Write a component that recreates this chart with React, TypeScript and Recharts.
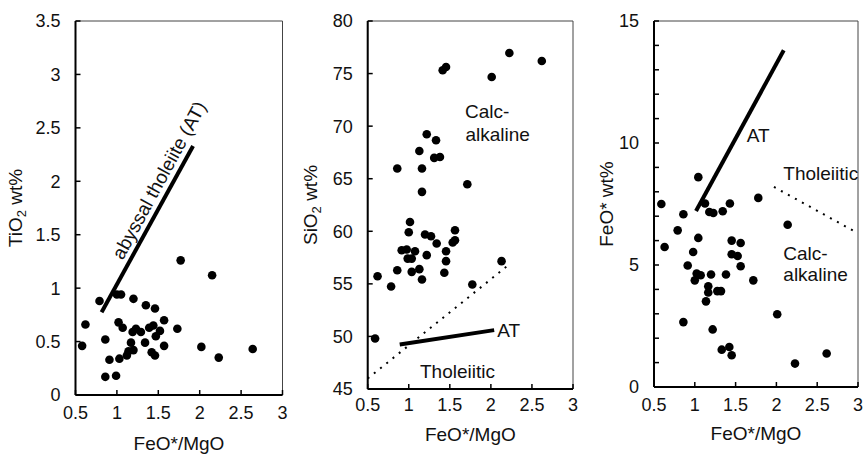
import React from 'react';
import { ScatterChart, Scatter, XAxis, YAxis, ReferenceLine, ReferenceArea } from 'recharts';

const FONT = '"Liberation Sans", Arial, Helvetica, sans-serif';

// Shared x axis (FeO*/MgO)
const ratioTicks = [0.5, 1, 1.5, 2, 2.5, 3];

// Panel 1: TiO2 wt%
const tiRatio = [0.58, 0.62, 0.79, 0.86, 0.86, 0.91, 0.99, 1.0, 1.05, 1.02, 1.07, 1.03, 1.12, 1.14, 1.17, 1.2, 1.19, 1.23, 1.2, 1.29, 1.34, 1.35, 1.39, 1.44, 1.46, 1.42, 1.46, 1.47, 1.52, 1.57, 1.57, 1.73, 2.02, 2.23, 2.15, 1.77, 2.64];
const tiValues = [0.46, 0.66, 0.88, 0.52, 0.17, 0.33, 0.18, 0.94, 0.94, 0.68, 0.63, 0.34, 0.37, 0.41, 0.49, 0.42, 0.59, 0.62, 0.9, 0.59, 0.49, 0.84, 0.63, 0.65, 0.81, 0.4, 0.37, 0.55, 0.6, 0.7, 0.46, 0.62, 0.45, 0.35, 1.12, 1.26, 0.43];
const tiTicks = [0, 0.5, 1, 1.5, 2, 2.5, 3, 3.5];
const tiAT = [{ x: 0.815, y: 0.775 }, { x: 1.92, y: 2.33 }];

// Panel 2: SiO2 wt%
const siRatio = [0.59, 0.62, 0.785, 0.86, 0.86, 0.914, 0.975, 0.987, 1.0, 1.015, 1.036, 1.036, 1.076, 1.129, 1.129, 1.161, 1.161, 1.161, 1.198, 1.219, 1.219, 1.271, 1.31, 1.332, 1.34, 1.38, 1.413, 1.433, 1.454, 1.454, 1.454, 1.535, 1.563, 1.563, 1.713, 1.774, 2.01, 2.13, 2.225, 2.62];
const siValues = [49.8, 55.73, 54.75, 56.3, 65.97, 58.2, 58.27, 57.4, 59.91, 60.89, 57.4, 56.14, 58.1, 56.4, 67.64, 55.42, 63.75, 65.97, 59.69, 57.73, 69.23, 59.53, 66.98, 68.66, 58.84, 67.07, 75.31, 56.05, 75.63, 58.1, 57.16, 58.93, 59.15, 60.1, 64.48, 54.94, 74.68, 57.16, 76.96, 76.2];
const siTicks = [45, 50, 55, 60, 65, 70, 75, 80];
const siAT = [{ x: 0.89, y: 49.24 }, { x: 2.04, y: 50.6 }];
const siDivider = [{ x: 0.5, y: 46.0 }, { x: 2.2, y: 56.7 }];

// Panel 3: FeO* wt%
const feRatio = [0.59, 0.63, 0.79, 0.86, 0.86, 0.913, 0.98, 1.0, 1.023, 1.043, 1.043, 1.072, 1.125, 1.137, 1.165, 1.165, 1.178, 1.199, 1.219, 1.227, 1.276, 1.321, 1.33, 1.342, 1.382, 1.423, 1.43, 1.452, 1.452, 1.452, 1.525, 1.562, 1.562, 1.717, 1.778, 2.01, 2.138, 2.228, 2.616];
const feValues = [7.5, 5.74, 6.42, 7.08, 2.66, 4.98, 5.53, 4.37, 4.65, 8.6, 6.11, 4.58, 7.52, 3.51, 4.13, 3.87, 7.17, 4.61, 2.36, 7.13, 3.93, 3.93, 1.53, 7.2, 4.61, 1.64, 7.52, 1.3, 6.0, 5.44, 5.37, 5.9, 4.95, 4.37, 7.75, 2.98, 6.65, 0.96, 1.37];
const feTicks = [0, 1, 2, 3, 4, 5, 6, 7, 8, 9, 10, 11, 12, 13, 14, 15];
const feAT = [{ x: 1.015, y: 7.21 }, { x: 2.09, y: 13.8 }];
const feDivider = [{ x: 1.97, y: 8.2 }, { x: 3.0, y: 6.3 }];

type Pt = { x: number; y: number };
type Anno = { x: number; y: number; text: string; angle?: number };

const tiAnnos: Anno[] = [{ x: 1.51, y: 2.01, text: 'abyssal tholeiite (AT)', angle: -61.5 }];
const siAnnos: Anno[] = [
  { x: 1.685, y: 70.75, text: 'Calc-' },
  { x: 1.69, y: 68.56, text: 'alkaline' },
  { x: 1.137, y: 46.0, text: 'Tholeiitic' },
  { x: 2.078, y: 49.96, text: 'AT' },
];
const feAnnos: Anno[] = [
  { x: 1.636, y: 10.04, text: 'AT' },
  { x: 2.085, y: 8.5, text: 'Tholeiitic' },
  { x: 2.085, y: 5.19, text: 'Calc-' },
  { x: 2.085, y: 4.33, text: 'alkaline' },
];

const zip = (xs: number[], ys: number[]): Pt[] => xs.map((x, i) => ({ x, y: ys[i] }));

const makeXTick = (offset: number) => (props: any) => {
  const { x, y, payload } = props;
  return (
    <g>
      <line x1={x} y1={y} x2={x} y2={y - 5} stroke="#000" strokeWidth={1.5} />
      <text x={x} y={y + offset} textAnchor="middle" fontSize={18} fontFamily={FONT} fill="#111">
        {payload.value}
      </text>
    </g>
  );
};

const makeYTick = (every: number) => (props: any) => {
  const { x, y, payload } = props;
  const v = payload.value;
  const r = v / every;
  const show = Math.abs(r - Math.round(r)) < 1e-6;
  return (
    <g>
      <line x1={x} y1={y} x2={x + 5} y2={y} stroke="#000" strokeWidth={1.5} />
      {show && (
        <text x={x - 15} y={y + 6.4} textAnchor="end" fontSize={18} fontFamily={FONT} fill="#111">
          {v}
        </text>
      )}
    </g>
  );
};

const makeYLabel = (main: string, sub: string, rest: string, offset: number) => (props: any) => {
  const vb = props.viewBox;
  if (!vb) return null;
  const cx = vb.x + vb.width - offset;
  const cy = vb.y + vb.height / 2;
  return (
    <text
      x={cx}
      y={cy + 6.5}
      transform={`rotate(-90 ${cx} ${cy})`}
      textAnchor="middle"
      fontSize={19}
      fontFamily={FONT}
      fill="#111"
    >
      <tspan>{main}</tspan>
      {sub ? (
        <tspan fontSize={13} dy={4}>
          {sub}
        </tspan>
      ) : null}
      <tspan dy={sub ? -4 : 0}>{rest}</tspan>
    </text>
  );
};

const makeXLabel = (offset: number) => (props: any) => {
  const vb = props.viewBox;
  if (!vb) return null;
  const cx = vb.x + vb.width / 2;
  return (
    <text x={cx} y={vb.y + offset} textAnchor="middle" fontSize={19} fontFamily={FONT} fill="#111">
      FeO*/MgO
    </text>
  );
};

const dotShape = (props: any) => <circle cx={props.cx} cy={props.cy} r={4.3} fill="#000" />;

const annoShape = (props: any) => {
  const { cx, cy, payload } = props;
  if (payload.angle) {
    return (
      <text
        x={cx}
        y={cy + 6.5}
        transform={`rotate(${payload.angle} ${cx} ${cy})`}
        textAnchor="middle"
        fontSize={19}
        fontFamily={FONT}
        fill="#111"
      >
        {payload.text}
      </text>
    );
  }
  return (
    <text x={cx} y={cy} textAnchor="start" fontSize={19} fontFamily={FONT} fill="#111">
      {payload.text}
    </text>
  );
};

type PanelProps = {
  left: number;
  width: number;
  yAxisWidth: number;
  marginRight: number;
  xAxisHeight: number;
  yDomain: [number, number];
  yTicks: number[];
  yEvery: number;
  points: Pt[];
  at: Pt[];
  divider?: Pt[];
  annos: Anno[];
  yMain: string;
  ySub: string;
  yRest: string;
  yLabelOffset: number;
  xLabelOffset: number;
  xTickOffset: number;
};

function Panel(p: PanelProps) {
  return (
    <div style={{ position: 'absolute', left: p.left, top: 0, width: p.width, height: 455 }}>
      <ScatterChart
        width={p.width}
        height={455}
        margin={{ top: 21, right: p.marginRight, bottom: 0, left: 0 }}
      >
        <XAxis
          type="number"
          dataKey="x"
          domain={[0.5, 3]}
          ticks={ratioTicks}
          interval={0}
          allowDataOverflow
          height={p.xAxisHeight}
          tickSize={0}
          tickMargin={0}
          tickLine={false}
          axisLine={{ stroke: '#000', strokeWidth: 2 }}
          tick={makeXTick(p.xTickOffset)}
          label={makeXLabel(p.xLabelOffset)}
        />
        <YAxis
          type="number"
          dataKey="y"
          domain={p.yDomain}
          ticks={p.yTicks}
          interval={0}
          allowDataOverflow
          width={p.yAxisWidth}
          tickSize={0}
          tickMargin={0}
          tickLine={false}
          axisLine={{ stroke: '#000', strokeWidth: 2 }}
          tick={makeYTick(p.yEvery)}
          label={makeYLabel(p.yMain, p.ySub, p.yRest, p.yLabelOffset)}
        />
        <ReferenceArea
          x1={0.5}
          x2={3}
          y1={p.yDomain[0]}
          y2={p.yDomain[1]}
          fill="none"
          fillOpacity={0}
          stroke="#444"
          strokeWidth={1}
          ifOverflow="visible"
        />
        <ReferenceLine segment={p.at} stroke="#000" strokeWidth={4} ifOverflow="visible" />
        {p.divider && (
          <ReferenceLine
            segment={p.divider}
            stroke="#000"
            strokeWidth={2}
            strokeDasharray="2 6"
            ifOverflow="visible"
          />
        )}
        <Scatter data={p.points} shape={dotShape} isAnimationActive={false} />
        <Scatter data={p.annos} shape={annoShape} isAnimationActive={false} />
      </ScatterChart>
    </div>
  );
}

export default function App() {
  return (
    <div style={{ position: 'absolute', left: 0, top: 0, width: 864, height: 455, background: '#fff', overflow: 'hidden' }}>
      <Panel
        left={0}
        width={290}
        yAxisWidth={75.5}
        marginRight={7.5}
        xAxisHeight={60}
        yDomain={[0, 3.5]}
        yTicks={tiTicks}
        yEvery={0.5}
        points={zip(tiRatio, tiValues)}
        at={tiAT}
        annos={tiAnnos}
        yMain="TiO"
        ySub="2"
        yRest=" wt%"
        yLabelOffset={60}
        xLabelOffset={55}
        xTickOffset={24}
      />
      <Panel
        left={290}
        width={290}
        yAxisWidth={77.7}
        marginRight={7}
        xAxisHeight={66}
        yDomain={[45, 80]}
        yTicks={siTicks}
        yEvery={5}
        points={zip(siRatio, siValues)}
        at={siAT}
        divider={siDivider}
        annos={siAnnos}
        yMain="SiO"
        ySub="2"
        yRest=" wt%"
        yLabelOffset={57.7}
        xLabelOffset={52}
        xTickOffset={22}
      />
      <Panel
        left={580}
        width={284}
        yAxisWidth={74}
        marginRight={6}
        xAxisHeight={68}
        yDomain={[0, 15]}
        yTicks={feTicks}
        yEvery={5}
        points={zip(feRatio, feValues)}
        at={feAT}
        divider={feDivider}
        annos={feAnnos}
        yMain="FeO* wt%"
        ySub=""
        yRest=""
        yLabelOffset={47.3}
        xLabelOffset={53}
        xTickOffset={24}
      />
    </div>
  );
}
